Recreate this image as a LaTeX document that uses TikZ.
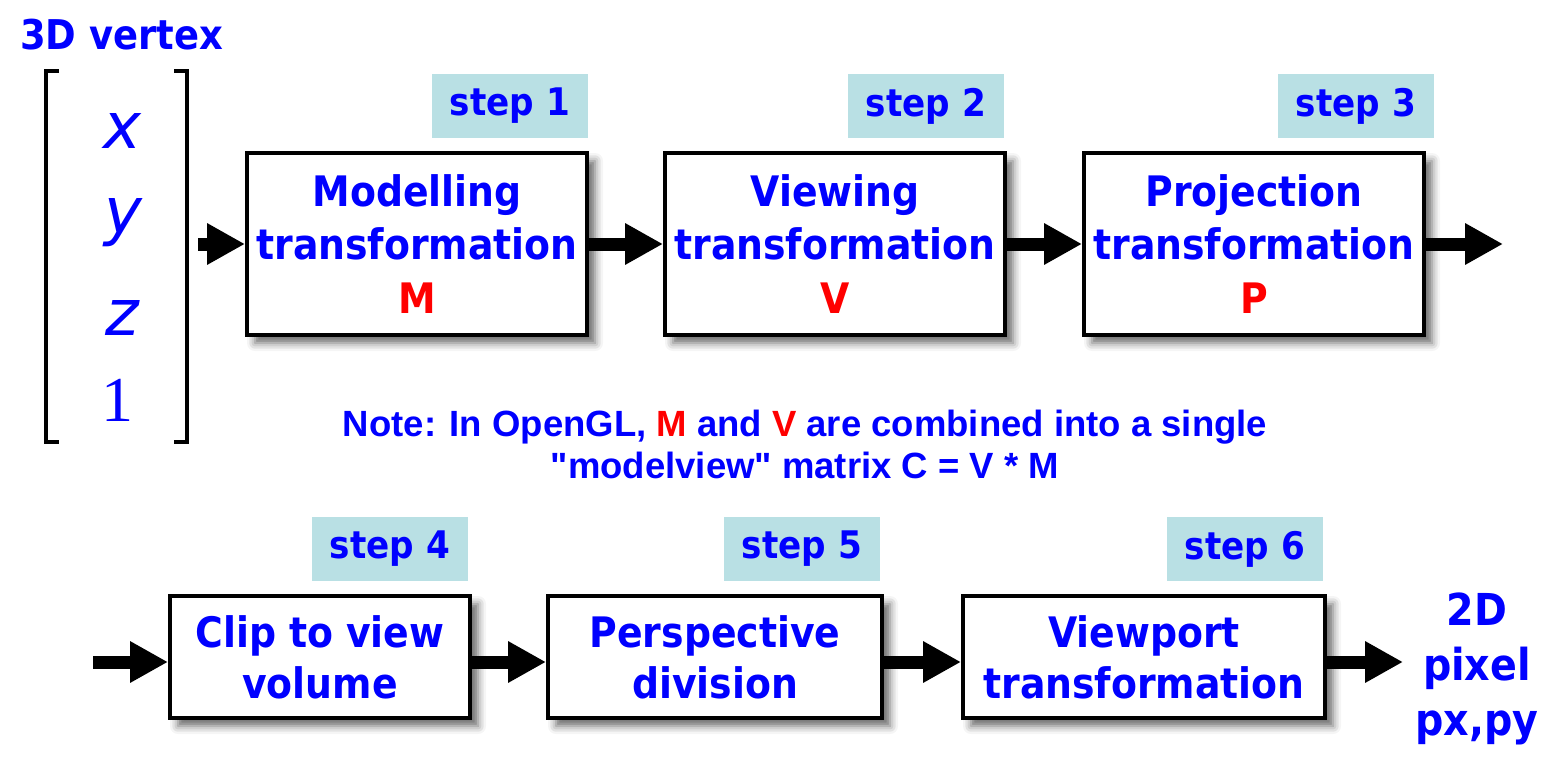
\documentclass[tikz,border=0pt]{standalone}
\usepackage{fontspec}
\setmainfont{DejaVu Sans Condensed}
\newfontfamily\notefont{Liberation Sans}
\newfontfamily\vecfont{DejaVu Sans}
\newfontfamily\serfont{Liberation Serif}
\usetikzlibrary{arrows.meta,shadows.blur}
\definecolor{stepfill}{RGB}{185,224,228}
\definecolor{txtblue}{RGB}{0,0,255}
\definecolor{txtred}{RGB}{255,0,0}
\tikzset{
  procbox/.style={draw=black, line width=4pt, fill=white, inner sep=0pt,
    align=center, text=txtblue,
    blur shadow={shadow xshift=8pt, shadow yshift=-8pt, shadow blur radius=8pt, shadow opacity=60}},
  topbox/.style={procbox, minimum width=340pt, minimum height=182pt,
    font=\bfseries\fontsize{42}{53.5}\selectfont},
  botbox/.style={procbox, minimum height=122pt,
    font=\bfseries\fontsize{42}{51}\selectfont},
  steplabel/.style={fill=stepfill, minimum width=156pt, minimum height=64pt,
    inner sep=0pt, text=txtblue, font=\bfseries\fontsize{38}{44}\selectfont},
  conn/.style={line width=13pt, -{Triangle[length=38pt,width=39pt]}},
  vecent/.style={anchor=base, inner sep=0pt, text=txtblue},
  bluetxt/.style={inner sep=0pt, text=txtblue, align=center},
}
\begin{document}
\begin{tikzpicture}[x=1pt,y=-1pt]
\useasboundingbox (0,0) rectangle (1555,760);
% title and vector
\node[bluetxt, anchor=base west, font=\bfseries\fontsize{41}{46}\selectfont] (title) at (20,50) {3D vertex};
\draw[line width=4pt] (59,71) -- (46,71) -- (46,442) -- (59,442);
\draw[line width=4pt] (174,71) -- (187,71) -- (187,442) -- (174,442);
\node[vecent, font=\vecfont\itshape\fontsize{64}{70}\selectfont] (vx) at (122,148) {x};
\node[vecent, font=\vecfont\itshape\fontsize{64}{70}\selectfont] (vy) at (123,233) {y};
\node[vecent, font=\vecfont\itshape\fontsize{64}{70}\selectfont] (vz) at (122,335) {z};
\node[vecent, font=\serfont\fontsize{64}{70}\selectfont] (v1) at (117,421) {1};
% top row
\node[topbox] (b1) at (417,244) {Modelling\\transformation\\\textcolor{txtred}{M}};
\node[topbox] (b2) at (835,244) {Viewing\\transformation\\\textcolor{txtred}{V}};
\node[topbox] (b3) at (1254,244) {Projection\\transformation\\\textcolor{txtred}{P}};
\node[steplabel] (s1) at (510,106) {step 1};
\node[steplabel] (s2) at (926,106) {step 2};
\node[steplabel] (s3) at (1356,106) {step 3};
\coordinate (in1) at (198,244);
\coordinate (out1) at (1503,244);
\draw[conn] (in1) -- (b1.west);
\draw[conn] (b1.east) -- (b2.west);
\draw[conn] (b2.east) -- (b3.west);
\draw[conn] (b3.east) -- (out1);
% note
\node[bluetxt, anchor=base, font=\notefont\bfseries\fontsize{36.5}{42}\selectfont] (note1) at (805,436)
  {Note: In OpenGL, \textcolor{txtred}{M} and \textcolor{txtred}{V} are combined into a single};
\node[bluetxt, anchor=base, font=\notefont\bfseries\fontsize{36.5}{42}\selectfont] (note2) at (805,478)
  {"modelview" matrix C = V * M};
% bottom row
\node[botbox, minimum width=300pt] (b4) at (320,657) {Clip to view\\volume};
\node[botbox, minimum width=334pt] (b5) at (715,657) {Perspective\\division};
\node[botbox, minimum width=362pt] (b6) at (1144,657) {Viewport\\transformation};
\node[steplabel] (s4) at (390,549) {step 4};
\node[steplabel] (s5) at (802,549) {step 5};
\node[steplabel] (s6) at (1245,549) {step 6};
\coordinate (in2) at (93,662);
\coordinate (out2) at (1403,662);
\draw[conn] (in2) -- ([yshift=-5pt]b4.west);
\draw[conn] ([yshift=-5pt]b4.east) -- ([yshift=-5pt]b5.west);
\draw[conn] ([yshift=-5pt]b5.east) -- ([yshift=-5pt]b6.west);
\draw[conn] ([yshift=-5pt]b6.east) -- (out2);
\node[bluetxt, font=\bfseries\fontsize{44}{55}\selectfont] (px) at (1477,669) {2D\\pixel\\px,py};
\end{tikzpicture}
\end{document}
